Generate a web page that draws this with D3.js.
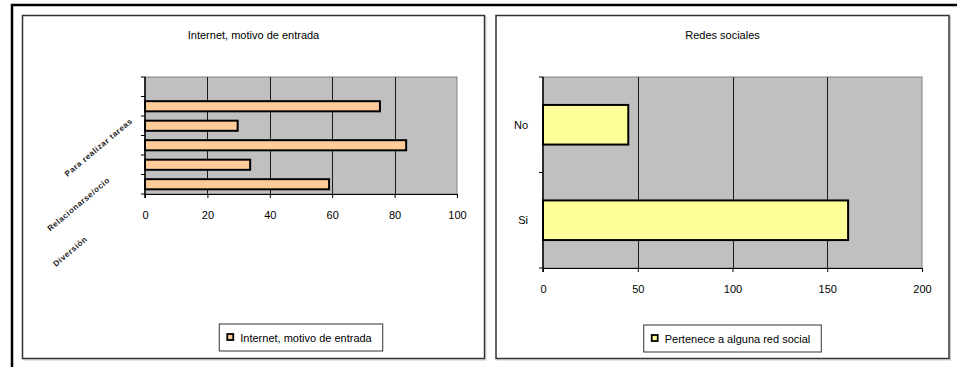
<!DOCTYPE html>
<html>
<head>
<meta charset="utf-8">
<script src="https://cdn.jsdelivr.net/npm/d3@7"></script>
<style>
  html, body { margin: 0; padding: 0; background: #fff; }
  svg { display: block; font-family: "Liberation Sans", Arial, sans-serif; }
</style>
</head>
<body>
<svg id="chart" width="957" height="367"></svg>
<script>
// Internet: reason for going online (top-down order; first row is empty)
const motivoLabels = ["", "Para realizar tareas", "", "Relacionarse/ocio", "", "Diversión"];
const motivoValues = [null, 75.3, 29.7, 83.7, 33.7, 59.0];
const motivoTicks = [0, 20, 40, 60, 80, 100];

// Social networks: belongs to some social network (top-down order)
const redesCategories = ["No", "Si"];
const redesValues = [45, 161];
const redesTicks = [0, 50, 100, 150, 200];

const svg = d3.select("#chart");

// page frame: heavy rule across the top and down the left side
svg.append("line").attr("x1", 11).attr("x2", 957).attr("y1", 5).attr("y2", 5)
  .attr("stroke", "#000").attr("stroke-width", 2.5);
svg.append("line").attr("x1", 12).attr("x2", 12).attr("y1", 4).attr("y2", 367)
  .attr("stroke", "#000").attr("stroke-width", 2.5);

function drawChart(cfg) {
  const g = svg.append("g");
  const b = cfg.box;

  // chart frame with a faint shadow
  g.append("rect").attr("x", b.x + 1.5).attr("y", b.y + 1.5).attr("width", b.w).attr("height", b.h)
    .attr("fill", "none").attr("stroke", "#c8c8c8").attr("stroke-width", 1);
  g.append("rect").attr("x", b.x).attr("y", b.y).attr("width", b.w).attr("height", b.h)
    .attr("fill", "#fff").attr("stroke", "#333").attr("stroke-width", 1.5);

  g.append("text").attr("x", b.x + b.w / 2).attr("y", 39)
    .attr("text-anchor", "middle").attr("font-size", 11).attr("fill", "#000")
    .text(cfg.title);

  const p = cfg.plot;
  const x = d3.scaleLinear().domain([0, cfg.ticks[cfg.ticks.length - 1]]).range([p.left, p.right]);
  const y = d3.scaleBand().domain(d3.range(cfg.values.length)).range([p.top, p.bottom])
    .paddingInner(cfg.pad).paddingOuter(cfg.pad / 2);

  // plot area
  g.append("rect").attr("x", p.left).attr("y", p.top)
    .attr("width", p.right - p.left).attr("height", p.bottom - p.top)
    .attr("fill", "#c0c0c0").attr("stroke", "#808080").attr("stroke-width", 1);

  // vertical gridlines
  g.append("g").selectAll("line").data(cfg.ticks.slice(1, -1)).join("line")
    .attr("x1", d => Math.round(x(d)) + 0.5).attr("x2", d => Math.round(x(d)) + 0.5)
    .attr("y1", p.top).attr("y2", p.bottom)
    .attr("stroke", "#1a1a1a").attr("stroke-width", 1);

  // bars
  g.append("g").selectAll("rect").data(cfg.values.map((v, i) => ({ v, i })).filter(d => d.v != null))
    .join("rect")
    .attr("x", x(0)).attr("y", d => y(d.i))
    .attr("width", d => x(d.v) - x(0)).attr("height", y.bandwidth())
    .attr("fill", cfg.color).attr("stroke", "#000").attr("stroke-width", 2);

  // bottom axis
  const xAxis = g.append("g").attr("transform", `translate(0,${p.bottom})`)
    .call(d3.axisBottom(x).tickValues(cfg.ticks).tickSize(4).tickSizeOuter(0).tickPadding(13).tickFormat(d3.format("d")));
  xAxis.select(".domain").attr("stroke", "#000").attr("stroke-width", 1.2);
  xAxis.selectAll(".tick line").attr("stroke", "#000");
  xAxis.selectAll("text").attr("font-size", 11).attr("font-family", "Liberation Sans, Arial, sans-serif").attr("fill", "#000");

  // left axis with ticks on category boundaries
  g.append("line").attr("x1", p.left).attr("x2", p.left).attr("y1", p.top).attr("y2", p.bottom + 4)
    .attr("stroke", "#000").attr("stroke-width", 1.5);
  const bounds = d3.range(cfg.values.length + 1).map(i => p.top + i * y.step());
  g.append("g").selectAll("line").data(bounds).join("line")
    .attr("x1", p.left - 4).attr("x2", p.left).attr("y1", d => d).attr("y2", d => d)
    .attr("stroke", "#000").attr("stroke-width", 1);

  cfg.drawLabels(g, y);

  // legend centred under the plot area
  const lg = g.append("g");
  const lt = lg.append("text").attr("font-size", 11).attr("fill", "#000").text(cfg.legend);
  const tw = lt.node().getComputedTextLength();
  const lw = tw + 32, lh = 27;
  const lx = (p.left + p.right) / 2 - lw / 2, ly = cfg.legendY;
  lg.insert("rect", "text").attr("x", lx).attr("y", ly).attr("width", lw).attr("height", lh)
    .attr("fill", "#fff").attr("stroke", "#333").attr("stroke-width", 1);
  lg.append("rect").attr("x", lx + 8).attr("y", ly + 10).attr("width", 6).attr("height", 6)
    .attr("fill", cfg.color).attr("stroke", "#000").attr("stroke-width", 1.8);
  lt.attr("x", lx + 21).attr("y", ly + 17.5);
}

drawChart({
  box: { x: 22.5, y: 15.5, w: 462, h: 343 },
  plot: { left: 145, right: 457, top: 77, bottom: 194 },
  title: "Internet, motivo de entrada",
  legend: "Internet, motivo de entrada",
  values: motivoValues,
  ticks: motivoTicks,
  pad: 0.48,
  color: "#ffcc99",
  legendY: 324,
  drawLabels: (g, y) => {
    // only every other category label is shown, slanted
    const shown = motivoLabels.map((t, i) => ({ t, i })).filter(d => d.t);
    g.append("g").selectAll("text").data(shown).join("text")
      .attr("transform", (d, k) => `translate(${133 - k * 22.5},${122 + k * 59}) rotate(-40)`)
      .attr("text-anchor", "end")
      .attr("font-size", 8).attr("font-weight", "bold").attr("letter-spacing", 0.6)
      .attr("fill", "#222")
      .text(d => d.t);
  }
});

drawChart({
  box: { x: 496, y: 15.5, w: 453, h: 343 },
  plot: { left: 543, right: 922, top: 77, bottom: 268 },
  title: "Redes sociales",
  legend: "Pertenece a alguna red social",
  values: redesValues,
  ticks: redesTicks,
  pad: 0.585,
  color: "#ffff99",
  legendY: 325,
  drawLabels: (g, y) => {
    g.append("g").selectAll("text").data(redesCategories).join("text")
      .attr("x", 528).attr("y", (d, i) => y(i) + y.bandwidth() / 2 + 4)
      .attr("text-anchor", "end").attr("font-size", 11).attr("fill", "#000")
      .text(d => d);
  }
});
</script>
</body>
</html>
